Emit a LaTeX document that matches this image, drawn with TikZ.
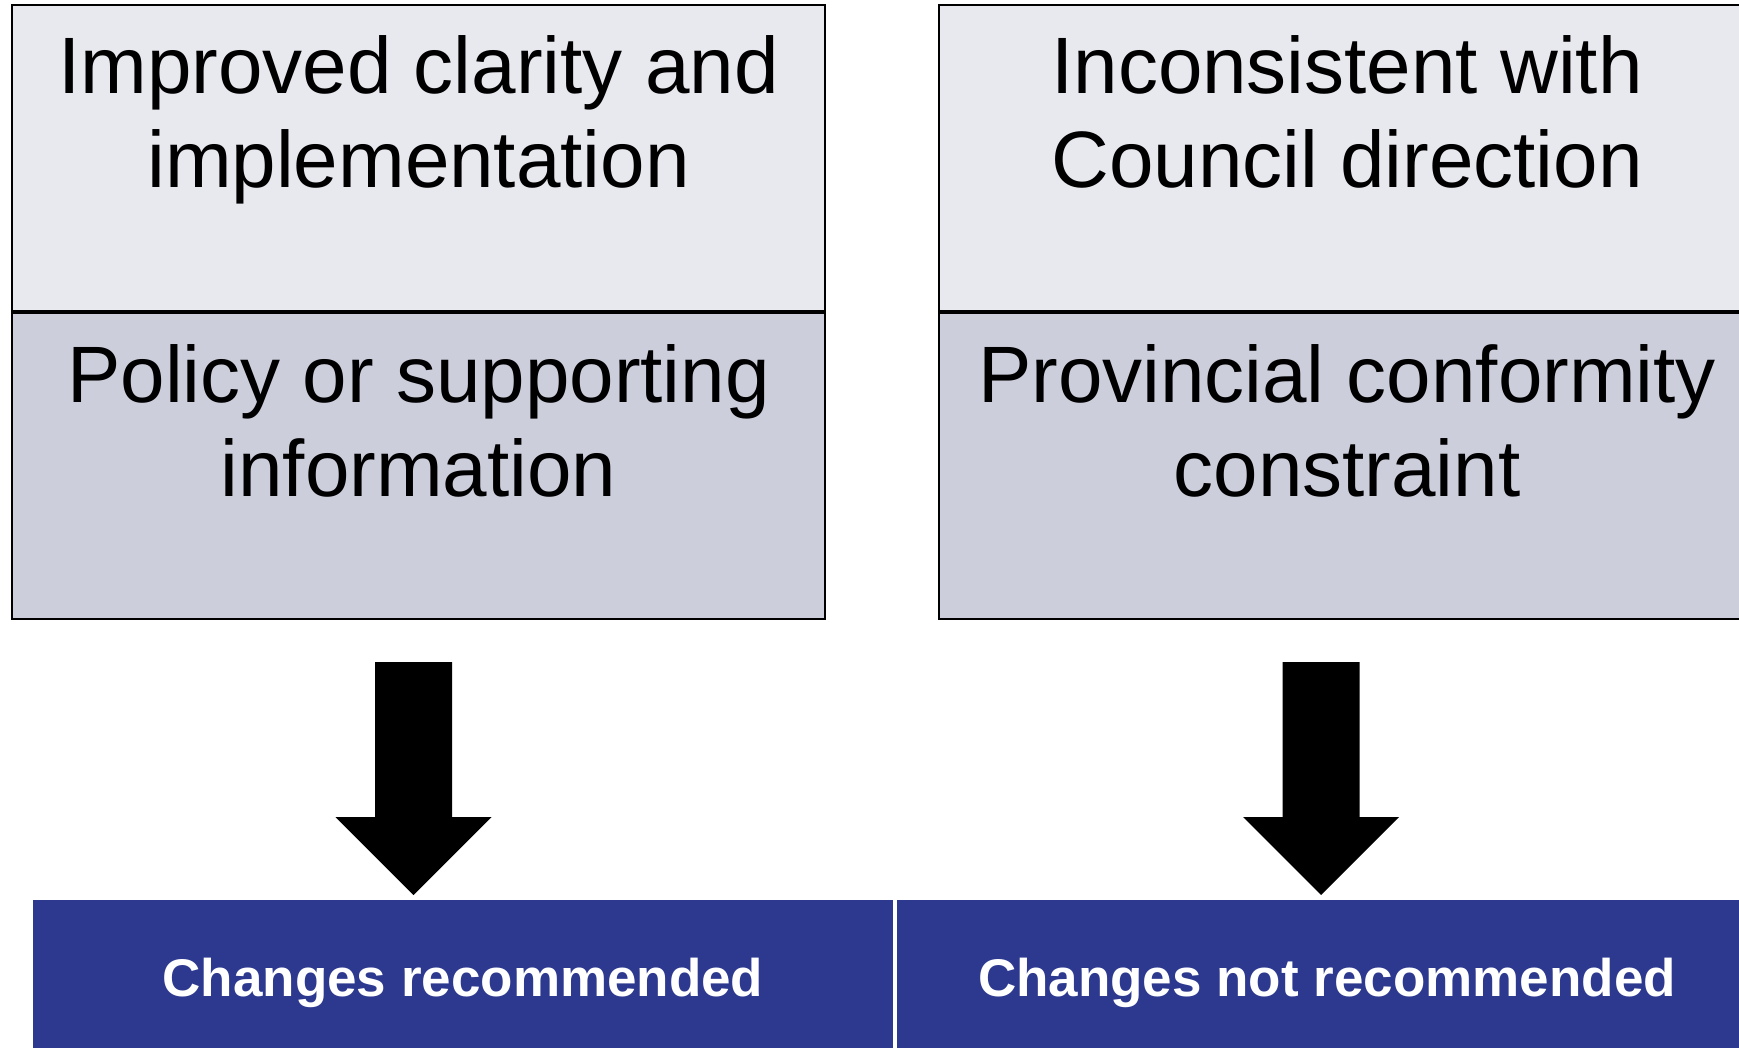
\documentclass[tikz,border=0pt]{standalone}
\usepackage{fontspec}
\setmainfont{Liberation Sans}
\usepackage{tikz}
\usetikzlibrary{positioning, calc}
\definecolor{palecell}{RGB}{232,232,239}
\definecolor{greycell}{RGB}{204,206,220}
\definecolor{navyband}{RGB}{45,57,143}
\tikzset{>=latex}

\begin{document}
\begin{tikzpicture}[x=1pt,y=-1pt,
    cell/.style={draw=black,line width=2pt,minimum width=#1,minimum height=306pt,inner sep=0pt,anchor=north west},
    celltext/.style={inner sep=0pt,align=center,font=\fontsize{80}{94}\selectfont},
    band/.style={draw=white,line width=2pt,fill=navyband,text=white,minimum width=862pt,minimum height=168pt,inner sep=0pt,anchor=north west,font=\fontsize{53}{60}\selectfont\bfseries},
    blockarrow/.style={fill=black}]
    \useasboundingbox (0,0) rectangle (1739,1047);
    % left column
    \node[cell=813pt,fill=palecell] (up1) at (11,4.4) {};
    \node[cell=813pt,fill=greycell] (lo1) at (up1.south west) {};
    % right column, runs off the page
    \node[cell=816pt,fill=palecell] (up2) at (938,4.4) {};
    \node[cell=816pt,fill=greycell] (lo2) at (up2.south west) {};
    \node[celltext,below=31pt of up1.north] (t1) {Improved clarity and\\implementation};
    \node[celltext,below=32pt of lo1.north] (t2) {Policy or supporting\\information};
    \node[celltext,below=31pt of up2.north] (t3) {Inconsistent with\\Council direction};
    \node[celltext,below=32pt of lo2.north] (t4) {Provincial conformity\\constraint};
    % outcomes
    \node[band] (res1) at (31,898) {Changes recommended};
    \node[band] (res2) at (res1.north east) {Changes not recommended};
    \coordinate (tip1) at (413.5,895);
    \coordinate (tip2) at (1321,895);
    \foreach \t in {tip1,tip2}
        \fill[blockarrow] (\t) -- ++(78,-78) -- ++(-39.5,0) -- ++(0,-155) -- ++(-77,0)
            -- ++(0,155) -- ++(-39.5,0) -- cycle;
\end{tikzpicture}
\end{document}
